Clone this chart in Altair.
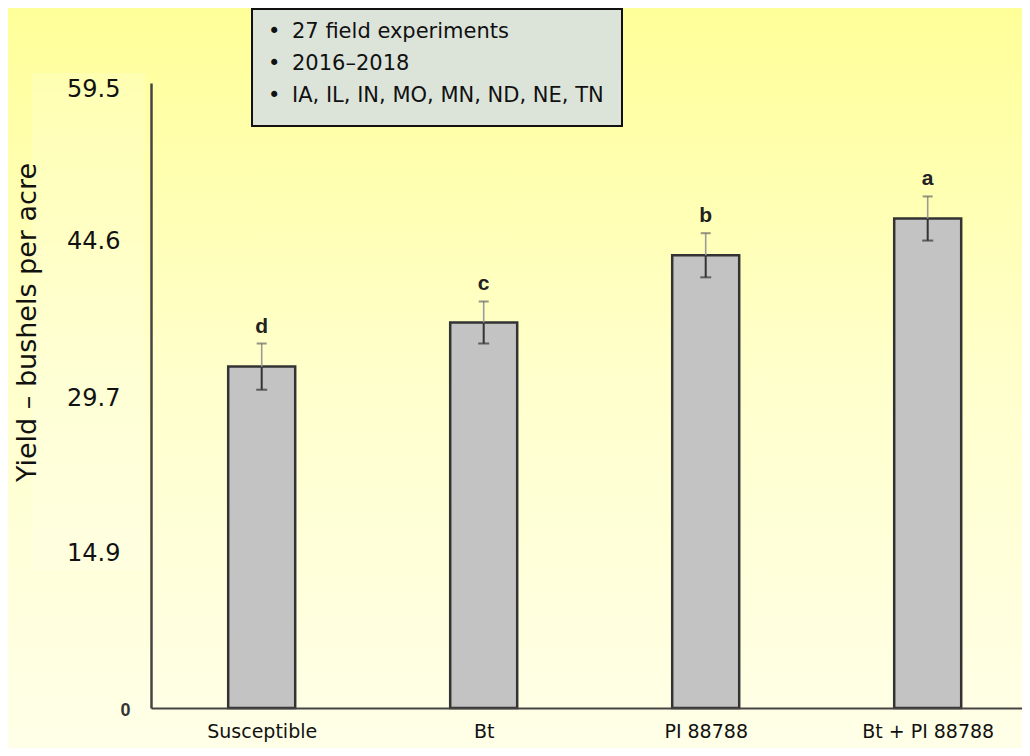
import altair as alt
import pandas as pd

# ---- data ----
categories = ["Susceptible", "Bt", "PI 88788", "Bt + PI 88788"]
means = [32.5, 36.7, 43.1, 46.6]
errors = [2.2, 2.0, 2.1, 2.1]
letters = ["d", "c", "b", "a"]
y_ticks = [0, 14.9, 29.7, 44.6, 59.5]
notes = ["27 field experiments", "2016\u20132018", "IA, IL, IN, MO, MN, ND, NE, TN"]
y_title = "Yield \u2013 bushels per acre"

df = pd.DataFrame({
    "cat": categories,
    "mean": means,
    "err": errors,
    "letter": letters,
})
df["lo"] = df["mean"] - df["err"]
df["hi"] = df["mean"] + df["err"]

W, H = 871, 625
PAD_L, PAD_T, PAD_R, PAD_B = 143, 75, 0, 40

one = pd.DataFrame({"k": [0]})

x_enc = alt.X(
    "cat:N",
    sort=categories,
    scale=alt.Scale(type="point", padding=0.4617, align=0.54),
    axis=alt.Axis(
        title=None,
        labelAngle=0,
        labelFont="DejaVu Sans",
        labelFontSize=19,
        labelColor="#111111",
        labelPadding=14,
        ticks=False,
        domainColor="#444444",
        domainWidth=2,
        zindex=1,
    ),
)

y_scale = alt.Scale(domain=[0, 59.5], nice=False, zero=True)

y_axis = alt.Axis(
    values=y_ticks,
    title=y_title,
    titleFont="DejaVu Sans",
    titleFontSize=27,
    titleFontWeight="normal",
    titleColor="#111111",
    titleAngle=270,
    titleAlign="center",
    titleBaseline="middle",
    titleX=-124,
    titleY=239,
    labelExpr="datum.value == 0 ? '0' : format(datum.value, '.1f')",
    labelFont={"condition": {"test": "datum.value == 0", "value": "Liberation Sans"}, "value": "DejaVu Sans"},
    labelFontSize={"condition": {"test": "datum.value == 0", "value": 18}, "value": 24},
    labelFontWeight={"condition": {"test": "datum.value == 0", "value": "bold"}, "value": "normal"},
    labelColor={"condition": {"test": "datum.value == 0", "value": "#333333"}, "value": "#111111"},
    labelAlign={"condition": {"test": "datum.value == 0", "value": "left"}, "value": "right"},
    labelOffset={"condition": {"test": "datum.value == 59.5", "value": 6}, "value": 2},
    labelPadding=31,
    ticks=False,
    grid=False,
    domainColor="#444444",
    domainWidth=2.5,
    zindex=1,
)

gradient = alt.LinearGradient(
    gradient="linear",
    stops=[
        alt.GradientStop(color="#FFFF99", offset=0),
        alt.GradientStop(color="#FFFFCC", offset=0.5),
        alt.GradientStop(color="#FFFFE8", offset=1),
    ],
    x1=0, x2=0, y1=0, y2=1,
)

background = alt.Chart(one).mark_rect(fill=gradient).encode(
    x=alt.value(-PAD_L), x2=alt.value(W + PAD_R),
    y=alt.value(-PAD_T), y2=alt.value(H + PAD_B),
)

label_panel = alt.Chart(one).mark_rect(fill="#FFFFFF", opacity=0.18).encode(
    x=alt.value(-119), x2=alt.value(-6),
    y=alt.value(-10), y2=alt.value(487),
)

bars = alt.Chart(df).mark_bar(
    size=67, fill="#C3C3C3", stroke="#333333", strokeWidth=2.5
).encode(
    x=x_enc,
    y=alt.Y("mean:Q", scale=y_scale, axis=y_axis),
)

err_low = alt.Chart(df).mark_rule(color="#333333", strokeWidth=2).encode(
    x=alt.X("cat:N", sort=categories), y="lo:Q", y2="mean:Q"
)
err_high = alt.Chart(df).mark_rule(color="#9A9A9A", strokeWidth=1.6).encode(
    x=alt.X("cat:N", sort=categories), y="mean:Q", y2="hi:Q"
)
cap_low = alt.Chart(df).mark_tick(color="#333333", size=11, thickness=2).encode(
    x=alt.X("cat:N", sort=categories), y="lo:Q"
)
cap_high = alt.Chart(df).mark_tick(color="#666666", size=10, thickness=2).encode(
    x=alt.X("cat:N", sort=categories), y="hi:Q"
)

letter_text = alt.Chart(df).mark_text(
    font="Liberation Sans", fontSize=21, fontWeight="bold", color="#222222",
    baseline="alphabetic", dy=-11,
).encode(
    x=alt.X("cat:N", sort=categories), y="hi:Q", text="letter:N"
)

box = alt.Chart(one).mark_rect(fill="#DCE4DA", stroke="#111111", strokeWidth=2).encode(
    x=alt.value(101), x2=alt.value(471),
    y=alt.value(-74), y2=alt.value(43),
)

bullets = alt.Chart(one).mark_text(
    text=["\u2022"] * len(notes), font="DejaVu Sans", fontSize=21, color="#111111",
    align="left", baseline="alphabetic", lineHeight=32,
).encode(x=alt.value(117), y=alt.value(-45))

note_text = alt.Chart(one).mark_text(
    text=notes, font="DejaVu Sans", fontSize=21, color="#111111",
    align="left", baseline="alphabetic", lineHeight=32,
).encode(x=alt.value(141), y=alt.value(-45))

chart = alt.layer(
    background, label_panel, bars, err_low, err_high, cap_low, cap_high,
    letter_text, box, bullets, note_text,
).properties(
    width=W, height=H,
    autosize=alt.AutoSizeParams(type="none"),
    padding={"left": PAD_L, "top": PAD_T, "right": PAD_R, "bottom": PAD_B},
).configure_view(strokeWidth=0).configure(background="#FFFFE8")

chart.save("out.html", embed_options={"renderer": "svg", "actions": False})
